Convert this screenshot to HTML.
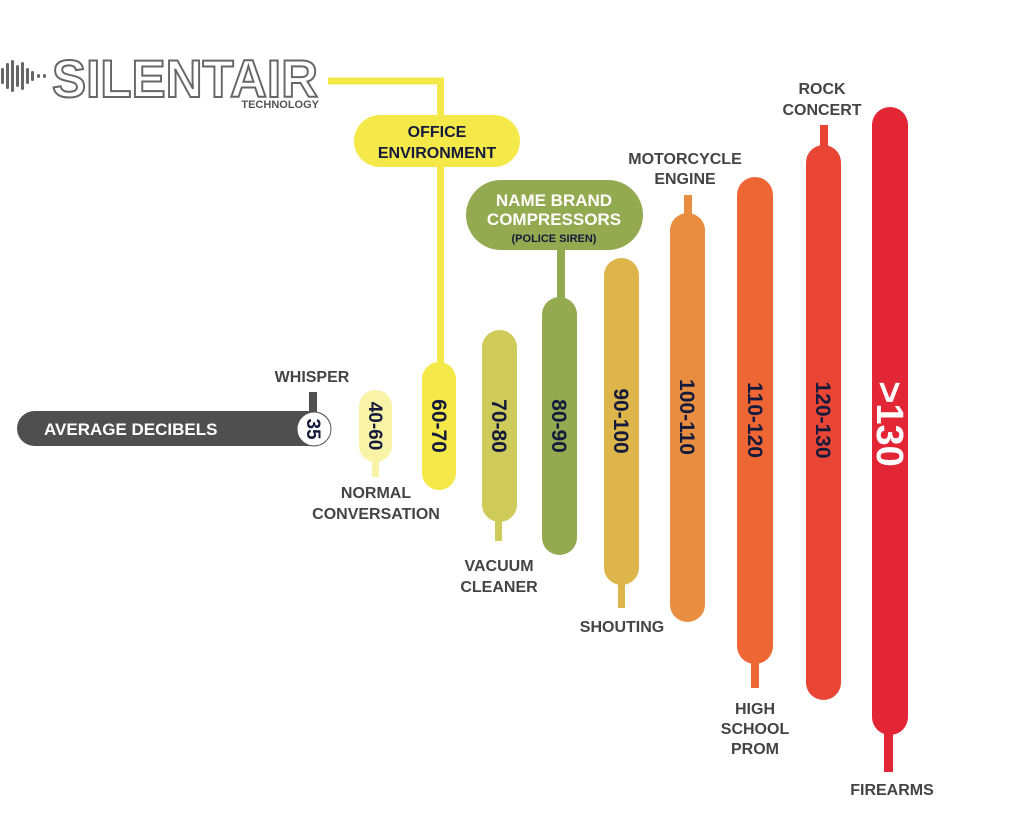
<!DOCTYPE html>
<html><head><meta charset="utf-8"><style>
html,body{margin:0;padding:0;background:#fff;}
svg{display:block;}
text{font-family:"Liberation Sans",sans-serif;font-weight:bold;}
.lb{fill:#444;font-size:16px;text-anchor:middle;}
.nv{fill:#141a3c;font-size:21px;text-anchor:middle;}
</style></head><body>
<svg width="1024" height="828" viewBox="0 0 1024 828">
<g fill="#666">
<rect x="1" y="68" width="3" height="16" rx="1.5"/>
<rect x="6" y="63" width="3" height="26" rx="1.5"/>
<rect x="11" y="60" width="3" height="32" rx="1.5"/>
<rect x="16" y="65" width="3" height="22" rx="1.5"/>
<rect x="21" y="62" width="3" height="28" rx="1.5"/>
<rect x="26" y="68" width="3" height="16" rx="1.5"/>
<rect x="31" y="71" width="3" height="10" rx="1.5"/>
<rect x="37" y="74" width="3" height="4" rx="1.5"/>
<rect x="43" y="74" width="3" height="4" rx="1.5"/>
</g>
<text x="52" y="97" font-size="53" fill="#fff" stroke="#666" stroke-width="2" textLength="266" lengthAdjust="spacingAndGlyphs">SILENTAIR</text>
<text x="319" y="108" font-size="11" fill="#555" text-anchor="end">TECHNOLOGY</text>

<path d="M328 81 H440.5 V380" stroke="#f5e94a" stroke-width="7" fill="none"/>
<rect x="354" y="115" width="166" height="52" rx="26" fill="#f5e94a"/>
<text x="437" y="137" class="nv" style="font-size:16px">OFFICE</text>
<text x="437" y="158" class="nv" style="font-size:16px">ENVIRONMENT</text>

<rect x="17" y="411" width="313" height="35" rx="17.5" fill="#4f4f4f"/>
<text x="44" y="435" fill="#fff" font-size="17">AVERAGE DECIBELS</text>
<rect x="309" y="392" width="8" height="20" fill="#4f4f4f"/>
<circle cx="314" cy="429" r="17" fill="#fff" stroke="#4f4f4f" stroke-width="1"/>
<text class="nv" transform="translate(307,429) rotate(90)" style="font-size:19px">35</text>
<text x="312" y="382" class="lb">WHISPER</text>

<rect x="372" y="455" width="7" height="22" fill="#f9f3a8"/>
<rect x="359" y="390" width="33" height="72" rx="16.5" fill="#f9f3a8"/>
<text class="nv" transform="translate(369,426) rotate(90)" style="font-size:19px">40-60</text>
<text x="376" y="498" class="lb">NORMAL</text>
<text x="376" y="519" class="lb">CONVERSATION</text>

<rect x="422" y="362" width="34" height="128" rx="17" fill="#f5e94a"/>
<text class="nv" transform="translate(432,426) rotate(90)">60-70</text>

<rect x="495" y="510" width="7" height="31" fill="#cfcb5a"/>
<rect x="482" y="330" width="35" height="192" rx="17.5" fill="#cfcb5a"/>
<text class="nv" transform="translate(492,426) rotate(90)">70-80</text>
<text x="499" y="571" class="lb">VACUUM</text>
<text x="499" y="592" class="lb">CLEANER</text>

<rect x="557" y="240" width="8" height="70" fill="#93aa50"/>
<rect x="542" y="297" width="35" height="258" rx="17.5" fill="#93aa50"/>
<rect x="466" y="180" width="177" height="70" rx="35" fill="#93aa50"/>
<text x="554" y="206" fill="#fff" font-size="17" text-anchor="middle">NAME BRAND</text>
<text x="554" y="225" fill="#fff" font-size="17" text-anchor="middle">COMPRESSORS</text>
<text x="554" y="242" class="nv" style="font-size:11px">(POLICE SIREN)</text>
<text class="nv" transform="translate(552,426) rotate(90)">80-90</text>

<rect x="618" y="570" width="7" height="38" fill="#ddb54a"/>
<rect x="604" y="258" width="35" height="327" rx="17.5" fill="#ddb54a"/>
<text class="nv" transform="translate(614,421) rotate(90)">90-100</text>
<text x="622" y="632" class="lb">SHOUTING</text>

<rect x="684" y="195" width="8" height="30" fill="#e98d40"/>
<rect x="670" y="213" width="35" height="409" rx="17.5" fill="#e98d40"/>
<text class="nv" transform="translate(680,417) rotate(90)">100-110</text>
<text x="685" y="164" class="lb">MOTORCYCLE</text>
<text x="685" y="184" class="lb">ENGINE</text>

<rect x="751" y="650" width="8" height="38" fill="#ee6633"/>
<rect x="737" y="177" width="36" height="487" rx="18" fill="#ee6633"/>
<text class="nv" transform="translate(748,420) rotate(90)">110-120</text>
<text x="755" y="714" class="lb">HIGH</text>
<text x="755" y="734" class="lb">SCHOOL</text>
<text x="755" y="754" class="lb">PROM</text>

<rect x="820" y="125" width="8" height="30" fill="#e84535"/>
<rect x="806" y="145" width="35" height="555" rx="17.5" fill="#e84535"/>
<text class="nv" transform="translate(816,420) rotate(90)">120-130</text>
<text x="822" y="94" class="lb">ROCK</text>
<text x="822" y="115" class="lb">CONCERT</text>

<rect x="884" y="720" width="9" height="52" fill="#e32636"/>
<rect x="872" y="107" width="36" height="628" rx="18" fill="#e32636"/>
<text transform="translate(877,424) rotate(90)" fill="#fff" font-size="38" text-anchor="middle">&gt;130</text>
<text x="892" y="795" class="lb">FIREARMS</text>
</svg>
</body></html>
